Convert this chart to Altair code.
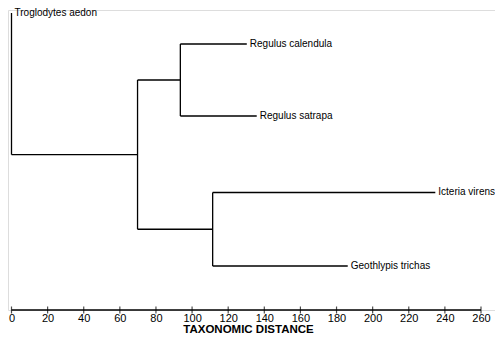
import altair as alt
import pandas as pd

# ---- data ----
LEAF_NAMES = ["Troglodytes aedon", "Regulus calendula", "Regulus satrapa",
              "Icteria virens", "Geothlypis trichas"]
LEAF_DIST = [0.0, 130.3, 135.8, 234.7, 186.2]      # taxonomic distance at leaf end
LEAF_ROW = [13, 44, 116, 192.5, 266]                # vertical position of each leaf

NODE_NAMES = ["root", "A", "B", "C"]
NODE_DIST = [0.0, 69.8, 93.5, 111.4]
NODE_CHILDREN = [["Troglodytes aedon", "A"],
                 ["B", "C"],
                 ["Regulus calendula", "Regulus satrapa"],
                 ["Icteria virens", "Geothlypis trichas"]]

TICKS = list(range(0, 261, 20))

# ---- build dendrogram segments from the tree ----
dist = dict(zip(LEAF_NAMES, LEAF_DIST))
dist.update(dict(zip(NODE_NAMES, NODE_DIST)))
children = dict(zip(NODE_NAMES, NODE_CHILDREN))
row = dict(zip(LEAF_NAMES, LEAF_ROW))


def node_row(n):
    if n in row:
        return row[n]
    ys = [node_row(c) for c in children[n]]
    row[n] = (min(ys) + max(ys)) / 2
    return row[n]


segs = []
for n in NODE_NAMES:
    ys = [node_row(c) for c in children[n]]
    segs.append({"x": dist[n], "x2": dist[n], "y": min(ys), "y2": max(ys)})
    for c in children[n]:
        segs.append({"x": dist[n], "x2": dist[c], "y": row[c], "y2": row[c]})
seg_df = pd.DataFrame(segs)
leaf_df = pd.DataFrame({"name": LEAF_NAMES, "d": LEAF_DIST, "r": LEAF_ROW})
tick_df = pd.DataFrame({"t": TICKS})
axis_df = pd.DataFrame({"a": [TICKS[0]], "b": [TICKS[-1]]})

PLOT_W = 487
PLOT_H = 300
FONT = "Liberation Sans"

# 0 -> 3.5 px, 260 -> 473 px inside the plot
PX_PER_UNIT = (473 - 3.5) / 260
X0 = -3.5 / PX_PER_UNIT
xscale = alt.Scale(domain=[X0, X0 + PLOT_W / PX_PER_UNIT], nice=False, zero=False)
yscale = alt.Scale(domain=[10, 310], reverse=True, nice=False, zero=False)
xaxis = alt.Axis(values=TICKS, domain=False, ticks=False, grid=False,
                 labelPadding=2, labelFont=FONT, labelFontSize=11, labelColor="black",
                 title="TAXONOMIC DISTANCE", titleFont=FONT, titleFontSize=11.5,
                 titleFontWeight="bold", titleColor="black", titlePadding=0,
                 titleX=240, titleAlign="center", labelFlush=False)


def X(field):
    return alt.X(field, type="quantitative", scale=xscale, axis=xaxis)


lines = alt.Chart(seg_df).mark_rule(color="black", strokeWidth=1.3).encode(
    x=X("x"), x2="x2",
    y=alt.Y("y:Q", scale=yscale, axis=None), y2="y2")

labels = alt.Chart(leaf_df).mark_text(align="left", baseline="middle", dx=3, dy=-0.5,
                                      font=FONT, fontSize=10, color="black").encode(
    x=X("d"), y=alt.Y("r:Q", scale=yscale, axis=None), text="name:N")

axis_line = alt.Chart(axis_df).mark_rule(color="black", strokeWidth=1.3).encode(
    x=X("a"), x2="b", y=alt.value(PLOT_H))

axis_ticks = alt.Chart(tick_df).mark_tick(color="black", thickness=1.2, size=7).encode(
    x=X("t"), y=alt.value(PLOT_H))

chart = alt.layer(lines, labels, axis_line, axis_ticks).properties(
    width=PLOT_W, height=PLOT_H,
    autosize=alt.AutoSizeParams(type="none"),
    padding={"left": 0, "top": 2, "right": 0, "bottom": 25},
).configure_view(stroke=None).configure(background="white")

chart.save("out.html", embed_options={"renderer": "svg", "actions": False})
